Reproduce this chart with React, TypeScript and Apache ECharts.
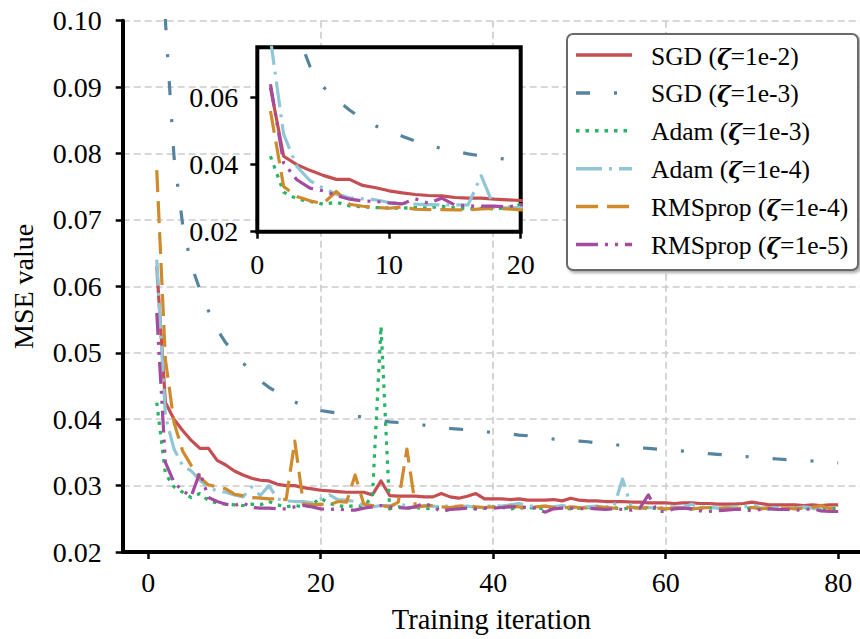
import React, { useEffect, useRef } from "react";
import * as echarts from "echarts";

// ---------- data ----------
const iterations: number[] = Array.from({ length: 80 }, (_, k) => k + 1);

const seriesNames = [
  "SGD (ζ=1e-2)",
  "SGD (ζ=1e-3)",
  "Adam (ζ=1e-3)",
  "Adam (ζ=1e-4)",
  "RMSprop (ζ=1e-4)",
  "RMSprop (ζ=1e-5)",
];
const legendRich = [
  "SGD ({z|ζ}=1e-2)",
  "SGD ({z|ζ}=1e-3)",
  "Adam ({z|ζ}=1e-3)",
  "Adam ({z|ζ}=1e-4)",
  "RMSprop ({z|ζ}=1e-4)",
  "RMSprop ({z|ζ}=1e-5)",
];

const sgd1e2 = [
  0.0630, 0.0425, 0.0400, 0.0383, 0.0368, 0.0356, 0.0356, 0.0338, 0.0331, 0.0322,
  0.0316, 0.0311, 0.0308, 0.0307, 0.0302, 0.0300, 0.0300, 0.0297, 0.0295, 0.0293,
  0.0292, 0.0291, 0.0290, 0.0290, 0.0290, 0.0286, 0.0307, 0.0285, 0.0284, 0.0284,
  0.0284, 0.0283, 0.0283, 0.0288, 0.0283, 0.0281, 0.0284, 0.0288, 0.0280, 0.0280,
  0.0280, 0.0279, 0.0280, 0.0278, 0.0278, 0.0278, 0.0279, 0.0277, 0.0281, 0.0278,
  0.0277, 0.0277, 0.0276, 0.0276, 0.0276, 0.0275, 0.0275, 0.0274, 0.0274, 0.0274,
  0.0273, 0.0274, 0.0274, 0.0273, 0.0273, 0.0272, 0.0272, 0.0272, 0.0273, 0.0275,
  0.0273, 0.0271, 0.0271, 0.0271, 0.0271, 0.0270, 0.0271, 0.0270, 0.0271, 0.0271,
];
const sgd1e3 = [
  0.1300, 0.1000, 0.0795, 0.0693, 0.0632, 0.0595, 0.0563, 0.0535, 0.0515, 0.0500,
  0.0485, 0.0470, 0.0458, 0.0448, 0.0440, 0.0432, 0.0426, 0.0420, 0.0416, 0.0413,
  0.0411, 0.0409, 0.0407, 0.0405, 0.0403, 0.0400, 0.0398, 0.0396, 0.0395, 0.0394,
  0.0392, 0.0391, 0.0389, 0.0387, 0.0386, 0.0385, 0.0384, 0.0382, 0.0381, 0.0380,
  0.0379, 0.0378, 0.0376, 0.0375, 0.0373, 0.0372, 0.0370, 0.0369, 0.0368, 0.0367,
  0.0366, 0.0364, 0.0363, 0.0362, 0.0360, 0.0359, 0.0357, 0.0356, 0.0355, 0.0354,
  0.0353, 0.0352, 0.0351, 0.0350, 0.0348, 0.0347, 0.0346, 0.0345, 0.0344, 0.0343,
  0.0342, 0.0341, 0.0340, 0.0339, 0.0339, 0.0338, 0.0337, 0.0336, 0.0335, 0.0334,
];
const adam1e3 = [
  0.0425, 0.0318, 0.0298, 0.0290, 0.0282, 0.0288, 0.0277, 0.0274, 0.0272, 0.0271,
  0.0270, 0.0272, 0.0271, 0.0276, 0.0271, 0.0268, 0.0270, 0.0268, 0.0272, 0.0281,
  0.0273, 0.0270, 0.0268, 0.0270, 0.0269, 0.0283, 0.0540, 0.0265, 0.0268, 0.0266,
  0.0267, 0.0265, 0.0266, 0.0268, 0.0265, 0.0266, 0.0267, 0.0265, 0.0266, 0.0268,
  0.0267, 0.0265, 0.0266, 0.0267, 0.0266, 0.0265, 0.0266, 0.0267, 0.0265, 0.0266,
  0.0267, 0.0266, 0.0268, 0.0266, 0.0265, 0.0266, 0.0267, 0.0265, 0.0266, 0.0264,
  0.0267, 0.0266, 0.0265, 0.0266, 0.0267, 0.0265, 0.0266, 0.0266, 0.0265, 0.0267,
  0.0266, 0.0265, 0.0266, 0.0265, 0.0266, 0.0267, 0.0265, 0.0266, 0.0265, 0.0266,
];
const adam1e4 = [
  0.0640, 0.0405, 0.0355, 0.0330, 0.0322, 0.0308, 0.0297, 0.0292, 0.0290, 0.0286,
  0.0283, 0.0298, 0.0285, 0.0300, 0.0280, 0.0277, 0.0276, 0.0276, 0.0274, 0.0280,
  0.0286, 0.0279, 0.0278, 0.0276, 0.0270, 0.0268, 0.0270, 0.0270, 0.0272, 0.0270,
  0.0268, 0.0270, 0.0269, 0.0268, 0.0270, 0.0268, 0.0269, 0.0267, 0.0268, 0.0270,
  0.0269, 0.0271, 0.0273, 0.0270, 0.0268, 0.0269, 0.0268, 0.0270, 0.0268, 0.0267,
  0.0268, 0.0269, 0.0267, 0.0268, 0.0310, 0.0268, 0.0266, 0.0267, 0.0266, 0.0267,
  0.0268, 0.0267, 0.0272, 0.0267, 0.0268, 0.0266, 0.0267, 0.0268, 0.0267, 0.0272,
  0.0266, 0.0267, 0.0266, 0.0267, 0.0266, 0.0268, 0.0266, 0.0265, 0.0266, 0.0265,
];
const rms1e4 = [
  0.0775, 0.0490, 0.0395, 0.0352, 0.0330, 0.0312, 0.0301, 0.0298, 0.0295, 0.0287,
  0.0285, 0.0282, 0.0281, 0.0280, 0.0280, 0.0279, 0.0367, 0.0272, 0.0271, 0.0272,
  0.0271, 0.0276, 0.0275, 0.0316, 0.0272, 0.0270, 0.0270, 0.0268, 0.0275, 0.0355,
  0.0268, 0.0269, 0.0270, 0.0268, 0.0267, 0.0269, 0.0270, 0.0268, 0.0267, 0.0268,
  0.0267, 0.0269, 0.0268, 0.0266, 0.0268, 0.0269, 0.0267, 0.0266, 0.0268, 0.0267,
  0.0266, 0.0268, 0.0267, 0.0266, 0.0268, 0.0267, 0.0266, 0.0267, 0.0266, 0.0265,
  0.0266, 0.0267, 0.0265, 0.0266, 0.0267, 0.0265, 0.0266, 0.0265, 0.0266, 0.0267,
  0.0265, 0.0266, 0.0265, 0.0266, 0.0265, 0.0266, 0.0267, 0.0270, 0.0265, 0.0268,
];
const rms1e5 = [
  0.0560, 0.0335, 0.0305, 0.0292, 0.0284, 0.0320, 0.0282, 0.0276, 0.0272, 0.0270,
  0.0274, 0.0267, 0.0266, 0.0266, 0.0265, 0.0265, 0.0268, 0.0270, 0.0268, 0.0265,
  0.0264, 0.0265, 0.0263, 0.0263, 0.0266, 0.0268, 0.0270, 0.0268, 0.0267, 0.0266,
  0.0268, 0.0274, 0.0268, 0.0261, 0.0264, 0.0265, 0.0266, 0.0265, 0.0266, 0.0266,
  0.0267, 0.0268, 0.0268, 0.0267, 0.0266, 0.0260, 0.0265, 0.0266, 0.0266, 0.0265,
  0.0266, 0.0265, 0.0264, 0.0265, 0.0264, 0.0263, 0.0266, 0.0286, 0.0261, 0.0261,
  0.0265, 0.0266, 0.0265, 0.0262, 0.0261, 0.0262, 0.0263, 0.0264, 0.0264, 0.0262,
  0.0264, 0.0265, 0.0264, 0.0264, 0.0263, 0.0264, 0.0265, 0.0262, 0.0261, 0.0261,
];

const allValues = [sgd1e2, sgd1e3, adam1e3, adam1e4, rms1e4, rms1e5];

// In the inset, the line styles draw these data series (as in the reference figure)
const insetDataIndex = [0, 1, 2, 4, 5, 3];

const xTicks = [0, 20, 40, 60, 80];
const yTicks = [0.02, 0.03, 0.04, 0.05, 0.06, 0.07, 0.08, 0.09, 0.1];
const insetXTicks = [0, 10, 20];
const insetYTicks = [0.02, 0.04, 0.06];

// ---------- styles ----------
const colors = ["#c44e52", "#55849f", "#27b463", "#90c6d6", "#cf8a2e", "#a34b9f"];
const dashes: (number[] | "solid")[] = [
  "solid",
  [14, 24, 3, 24],
  [3.5, 6],
  [26, 7, 3, 7],
  [22, 9],
  [22, 7, 3, 7, 3, 7],
];
const FONT = "Liberation Serif";

export default function App() {
  const ref = useRef<HTMLDivElement>(null);

  useEffect(() => {
    if (!ref.current) return;
    const chart = echarts.init(ref.current, undefined, { renderer: "svg" });

    const mkData = (vals: number[]) => iterations.map((x, k) => [x, vals[k]]);

    const mainSeries = allValues.map((vals, s) => ({
      type: "line",
      name: seriesNames[s],
      xAxisIndex: 0,
      yAxisIndex: 0,
      data: mkData(vals),
      showSymbol: false,
      symbol: "none",
      clip: true,
      z: 2 + s * 0.01,
      lineStyle: {
        color: colors[s],
        width: 3.2,
        type: dashes[s],
        cap: "butt",
        join: "round",
      },
    }));

    const insetSeries = insetDataIndex.map((d, s) => ({
      type: "line",
      name: seriesNames[s] + " inset",
      xAxisIndex: 1,
      yAxisIndex: 1,
      data: mkData(allValues[d]).slice(0, 22),
      showSymbol: false,
      symbol: "none",
      clip: true,
      z: 11,
      lineStyle: {
        color: colors[s],
        width: 3.2,
        type: dashes[s],
        cap: "butt",
        join: "round",
      },
    }));

    // legend drawn with graphic elements
    const lgX = 567, lgY = 34, lgW = 291, lgH = 236;
    const rowY0 = 55, rowStep = 37.9;
    const legendChildren: any[] = [
      {
        type: "rect",
        shape: { x: lgX, y: lgY, width: lgW, height: lgH, r: 6 },
        style: {
          fill: "#ffffff",
          stroke: "#6a6a6a",
          lineWidth: 2,
          shadowBlur: 3,
          shadowOffsetX: 2,
          shadowOffsetY: 2,
          shadowColor: "rgba(0,0,0,0.35)",
        },
        z: 50,
      },
    ];
    seriesNames.forEach((_, s) => {
      const y = rowY0 + rowStep * s;
      legendChildren.push({
        type: "line",
        shape: { x1: 576, y1: y, x2: 632, y2: y },
        style: {
          stroke: colors[s],
          lineWidth: 3.5,
          lineDash: dashes[s] === "solid" ? null : dashes[s],
          lineCap: "butt",
        },
        z: 51,
      });
      legendChildren.push({
        type: "text",
        x: 651,
        y: y + 1,
        style: {
          text: legendRich[s],
          fill: "#000",
          font: `25.5px "${FONT}"`,
          fontFamily: FONT,
          fontSize: 25.5,
          verticalAlign: "middle",
          align: "left",
          rich: {
            z: {
              fontFamily: "DejaVu Serif",
              fontStyle: "italic",
              fontWeight: "bold",
              fontSize: 23,
              fill: "#000",
            },
          },
        },
        z: 51,
      });
    });

    const axisLabelStyle = { color: "#000", fontFamily: FONT, fontSize: 28 };

    const option: any = {
      animation: false,
      backgroundColor: "#ffffff",
      grid: [
        { left: 122.7, top: 20.7, right: 0, bottom: 86.7, show: false, z: 0 },
        {
          left: 257.3,
          top: 47.3,
          width: 263.4,
          height: 184.4,
          show: true,
          backgroundColor: "#ffffff",
          borderColor: "#000",
          borderWidth: 4,
          z: 10,
        },
      ],
      xAxis: [
        {
          type: "value",
          gridIndex: 0,
          min: -2.95,
          max: 82.53,
          splitNumber: 5,
          name: "Training iteration",
          nameLocation: "middle",
          nameGap: 53,
          nameTextStyle: { color: "#000", fontFamily: FONT, fontSize: 28.5 },
          axisLine: { show: true, onZero: false, lineStyle: { color: "#000", width: 4 } },
          axisTick: {
            show: true,
            length: 7,
            customValues: xTicks,
            lineStyle: { color: "#000", width: 2.5 },
          },
          axisLabel: {
            ...axisLabelStyle,
            margin: 16,
            customValues: xTicks,
            formatter: (v: number) => String(v),
          },
          splitLine: {
            show: true,
            showMinLine: false,
            showMaxLine: false,
            lineStyle: { color: "#cbcbcb", width: 1.6, type: [7, 4] },
          },
        },
        {
          type: "value",
          gridIndex: 1,
          min: insetXTicks[0],
          max: insetXTicks[insetXTicks.length - 1],
          interval: 10,
          z: 12,
          axisLine: { show: false },
          axisTick: { show: true, length: 7, lineStyle: { color: "#000", width: 2.5 } },
          axisLabel: { ...axisLabelStyle, margin: 19 },
          splitLine: { show: false },
        },
      ],
      yAxis: [
        {
          type: "value",
          gridIndex: 0,
          min: yTicks[0],
          max: yTicks[yTicks.length - 1],
          interval: 0.01,
          name: "MSE value",
          nameLocation: "middle",
          nameGap: 85,
          nameTextStyle: { color: "#000", fontFamily: FONT, fontSize: 28 },
          axisLine: { show: true, onZero: false, lineStyle: { color: "#000", width: 4 } },
          axisTick: { show: true, length: 7, lineStyle: { color: "#000", width: 2.5 } },
          axisLabel: {
            ...axisLabelStyle,
            margin: 21,
            formatter: (v: number) => v.toFixed(2),
          },
          splitLine: {
            show: true,
            lineStyle: { color: "#cbcbcb", width: 1.6, type: [7, 4] },
          },
        },
        {
          type: "value",
          gridIndex: 1,
          min: insetYTicks[0],
          max: 0.075,
          interval: 0.02,
          z: 12,
          axisLine: { show: false },
          axisTick: {
            show: true,
            length: 7,
            customValues: insetYTicks,
            lineStyle: { color: "#000", width: 2.5 },
          },
          axisLabel: {
            ...axisLabelStyle,
            margin: 19,
            customValues: insetYTicks,
            formatter: (v: number) => v.toFixed(2),
          },
          splitLine: { show: false },
        },
      ],
      series: [...mainSeries, ...insetSeries],
      graphic: [{ type: "group", children: legendChildren }],
    };

    chart.setOption(option);
    return () => chart.dispose();
  }, []);

  return <div ref={ref} style={{ width: 860, height: 639, position: "absolute", left: 0, top: 0 }} />;
}
